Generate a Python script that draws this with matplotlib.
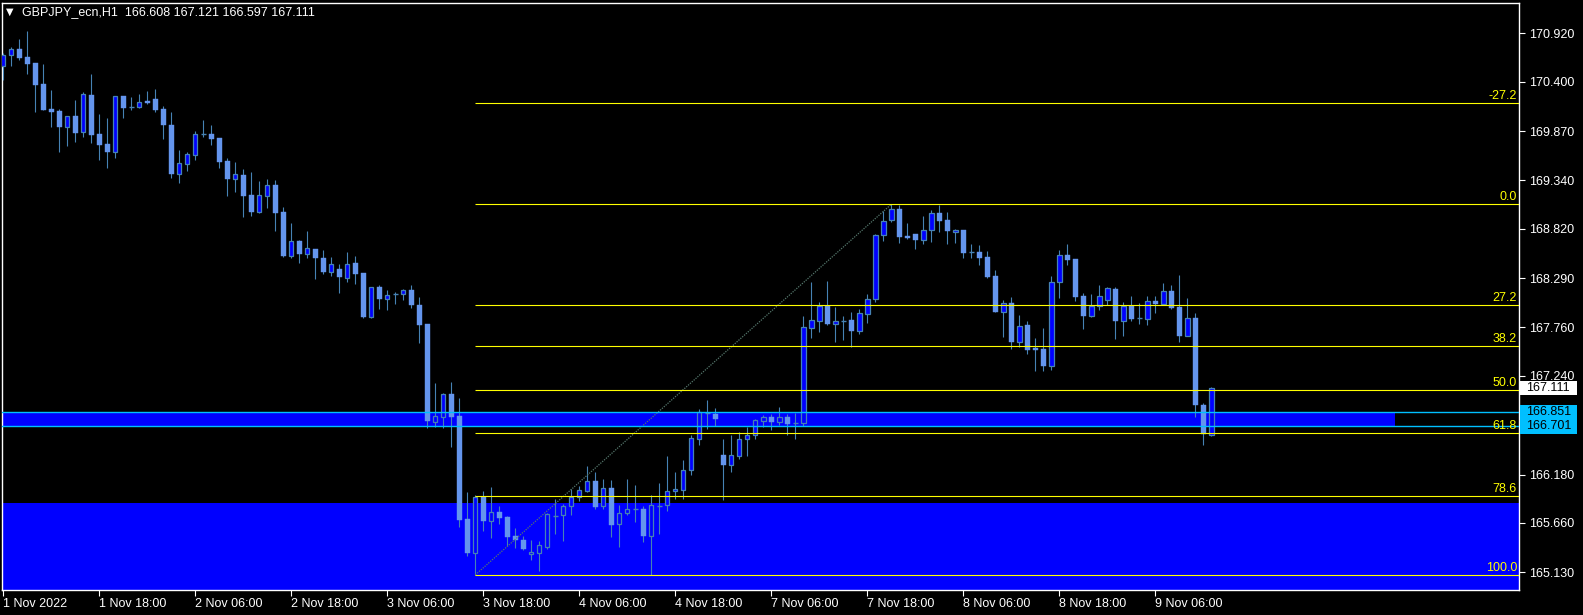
import matplotlib
matplotlib.use("Agg")
import matplotlib.pyplot as plt
from matplotlib.patches import Rectangle
from matplotlib.transforms import blended_transform_factory

# hourly candles, bar 0 = 1 Nov 06:00 (weekend skipped after bar 89)
opens = [170.574, 170.686, 170.753, 170.667, 170.603, 170.377, 170.109, 170.087, 169.918, 170.033,
         169.865, 170.259, 169.840, 169.732, 169.650, 170.248, 170.133, 170.133, 170.195, 170.216,
         170.109, 169.937, 169.413, 169.521, 169.617, 169.837, 169.840, 169.797, 169.550, 169.360,
         169.399, 169.184, 169.005, 169.177, 169.292, 169.002, 168.532, 168.690, 168.554, 168.604,
         168.507, 168.360, 168.389, 168.296, 168.454, 168.346, 167.876, 168.196, 168.070, 168.124,
         168.124, 168.163, 168.002, 167.798, 166.748, 166.802, 167.046, 166.809, 165.702, 165.340,
         165.939, 165.684, 165.778, 165.727, 165.520, 165.477, 165.323, 165.334, 165.405, 165.738,
         165.749, 165.839, 165.942, 166.003, 166.111, 165.839, 166.035, 165.645, 165.764, 165.807,
         165.810, 165.523, 165.846, 165.850, 166.000, 166.017, 166.226, 166.565, 166.838, 166.834,
         166.387, 166.286, 166.383, 166.565, 166.602, 166.759, 166.795, 166.748, 166.795, 166.737,
         166.737, 167.758, 167.834, 167.991, 167.801, 167.830, 167.838, 167.720, 167.909, 168.063,
         168.751, 168.912, 169.034, 168.740, 168.765, 168.704, 168.805, 168.991, 168.916, 168.790,
         168.808, 168.572, 168.572, 168.518, 168.314, 167.930, 168.024, 167.608, 167.787, 167.537,
         167.529, 167.350, 168.246, 168.540, 168.497, 168.099, 167.887, 167.988, 168.059, 168.174,
         167.834, 167.991, 167.859, 167.855, 168.045, 168.016, 168.153, 167.981, 167.669, 167.863,
         166.928, 166.608]
highs = [170.707, 170.778, 170.861, 170.947, 170.603, 170.592, 170.313, 170.109, 170.033, 170.205,
         170.291, 170.485, 170.055, 170.012, 170.248, 170.248, 170.238, 170.270, 170.305, 170.324,
         170.138, 170.076, 169.668, 169.647, 169.872, 169.990, 169.937, 169.797, 169.582, 169.539,
         169.464, 169.432, 169.335, 169.356, 169.346, 169.055, 168.883, 168.698, 168.797, 168.604,
         168.593, 168.515, 168.443, 168.572, 168.529, 168.346, 168.196, 168.217, 168.160, 168.142,
         168.171, 168.217, 168.088, 167.798, 167.164, 167.053, 167.175, 167.003, 165.993, 165.957,
         166.003, 166.046, 165.842, 165.734, 165.606, 165.523, 165.477, 165.466, 165.767, 165.917,
         165.864, 166.025, 166.057, 166.272, 166.207, 166.132, 166.121, 165.850, 166.132, 166.068,
         165.842, 165.960, 166.089, 166.379, 166.207, 166.336, 166.605, 166.885, 166.981, 166.895,
         166.562, 166.605, 166.634, 166.694, 166.774, 166.820, 166.831, 166.906, 166.831, 166.838,
         167.884, 168.249, 168.034, 168.260, 167.981, 167.884, 167.927, 167.959, 168.120, 168.768,
         169.016, 169.084, 169.080, 168.883, 168.765, 168.955, 169.023, 169.077, 169.002, 168.819,
         168.808, 168.658, 168.647, 168.583, 168.378, 168.056, 168.088, 167.895, 167.830, 167.648,
         167.755, 168.314, 168.593, 168.658, 168.497, 168.128, 168.120, 168.217, 168.196, 168.196,
         168.038, 168.099, 168.024, 168.099, 168.099, 168.239, 168.217, 168.325, 168.077, 167.916,
         166.949, 167.121]
lows = [170.420, 170.574, 170.635, 170.488, 170.080, 170.101, 169.918, 169.650, 169.714, 169.757,
        169.811, 169.740, 169.564, 169.478, 169.585, 170.015, 170.098, 170.116, 170.162, 170.080,
        169.786, 169.370, 169.317, 169.446, 169.564, 169.811, 169.725, 169.478, 169.177, 169.220,
        168.951, 168.962, 168.994, 169.048, 168.801, 168.521, 168.511, 168.457, 168.511, 168.285,
        168.335, 168.314, 168.134, 168.249, 168.228, 167.862, 167.866, 167.959, 167.948, 168.013,
        168.056, 167.970, 167.594, 166.684, 166.694, 166.684, 166.479, 165.620, 165.308, 165.101,
        165.577, 165.501, 165.652, 165.412, 165.391, 165.369, 165.262, 165.144, 165.383, 165.544,
        165.469, 165.749, 165.899, 165.993, 165.807, 165.807, 165.512, 165.405, 165.745, 165.673,
        165.458, 165.100, 165.544, 165.792, 165.920, 165.920, 166.178, 166.501, 166.673, 166.702,
        165.910, 166.211, 166.350, 166.383, 166.565, 166.688, 166.659, 166.716, 166.608, 166.565,
        166.702, 167.651, 167.715, 167.790, 167.608, 167.629, 167.548, 167.687, 167.812, 168.031,
        168.693, 168.897, 168.672, 168.711, 168.607, 168.658, 168.682, 168.787, 168.661, 168.672,
        168.511, 168.511, 168.435, 168.289, 167.930, 167.662, 167.533, 167.554, 167.479, 167.296,
        167.296, 167.307, 168.081, 168.435, 168.048, 167.744, 167.876, 167.948, 167.999, 167.637,
        167.669, 167.834, 167.801, 167.790, 167.919, 168.005, 167.959, 167.605, 167.669, 166.802,
        166.501, 166.597]
closes = [170.689, 170.750, 170.660, 170.595, 170.370, 170.101, 170.080, 169.918, 170.030, 169.854,
          170.267, 169.832, 169.725, 169.650, 170.245, 170.123, 170.133, 170.181, 170.176, 170.098,
          169.940, 169.413, 169.525, 169.622, 169.837, 169.837, 169.786, 169.542, 169.360, 169.407,
          169.177, 169.005, 169.181, 169.289, 168.994, 168.532, 168.687, 168.554, 168.612, 168.511,
          168.357, 168.440, 168.306, 168.443, 168.335, 167.873, 168.192, 168.067, 168.106, 168.124,
          168.160, 168.002, 167.790, 166.759, 166.809, 167.046, 166.802, 165.695, 165.340, 165.939,
          165.681, 165.774, 165.716, 165.512, 165.473, 165.380, 165.344, 165.423, 165.756, 165.738,
          165.842, 165.939, 166.014, 166.111, 165.835, 166.032, 165.641, 165.764, 165.807, 165.807,
          165.523, 165.850, 165.846, 166.000, 166.025, 166.229, 166.570, 166.849, 166.838, 166.780,
          166.286, 166.387, 166.559, 166.602, 166.763, 166.795, 166.748, 166.795, 166.727, 166.737,
          167.762, 167.838, 167.988, 167.798, 167.827, 167.830, 167.726, 167.913, 168.063, 168.751,
          168.902, 169.031, 168.736, 168.722, 168.704, 168.805, 168.991, 168.908, 168.801, 168.805,
          168.564, 168.572, 168.511, 168.306, 167.930, 168.020, 167.608, 167.773, 167.522, 167.519,
          167.350, 168.246, 168.540, 168.489, 168.091, 167.887, 167.991, 168.096, 168.182, 167.834,
          167.991, 167.852, 167.859, 168.045, 168.016, 168.149, 167.970, 167.669, 167.859, 166.928,
          166.613, 167.111]

date_labels = ["1 Nov 2022", "1 Nov 18:00", "2 Nov 06:00", "2 Nov 18:00", "3 Nov 06:00",
               "3 Nov 18:00", "4 Nov 06:00", "4 Nov 18:00", "7 Nov 06:00", "7 Nov 18:00",
               "8 Nov 06:00", "8 Nov 18:00", "9 Nov 06:00"]
price_ticks = [170.920, 170.400, 169.870, 169.340, 168.820, 168.290, 167.760, 167.240,
               166.180, 165.660, 165.130]

fib_levels = [-27.2, 0.0, 27.2, 38.2, 50.0, 61.8, 78.6, 100.0]
fib_high = 169.084
fib_low = 165.101
fib_high_bar = 111
fib_low_bar = 59

zone_top = 166.851
zone_bottom = 166.701
zone_end_bar = 174
demand_top = 165.874

last_price = 167.111
title = "GBPJPY_ecn,H1  166.608 167.121 166.597 167.111"

plt.rcParams["font.family"] = ["Liberation Sans", "DejaVu Sans"]

W, H = 1583, 615
fig = plt.figure(figsize=(W / 100, H / 100), dpi=100, facecolor="black")
ax = fig.add_axes([2 / W, 1 - 590 / H, (1519 - 2) / W, (590 - 3) / H])
ax.set_facecolor("black")
ax.set_xlim(-0.16, 189.46)
ax.set_ylim(164.939, 171.247)

wick = "#4682B4"
bull_fill = "#0000FF"
bear_fill = "#6495ED"

# background rectangles
ax.add_patch(Rectangle((-5, zone_bottom), zone_end_bar + 5, zone_top - zone_bottom,
                       color="#0000FF", lw=0, zorder=1))
ax.add_patch(Rectangle((-5, 160), 300, demand_top - 160, color="#0000FF", lw=0, zorder=1))

# candles
for i in range(len(opens)):
    o, h, l, c = opens[i], highs[i], lows[i], closes[i]
    ax.vlines(i, l, h, color=wick, lw=0.8, zorder=3)
    if c > o:
        ax.bar(i, c - o, bottom=o, width=0.55, color=bull_fill, edgecolor=wick,
               linewidth=0.9, zorder=4)
    elif c < o:
        ax.bar(i, o - c, bottom=c, width=0.62, color=bear_fill, edgecolor=bear_fill,
               linewidth=0.3, zorder=4)
    else:
        ax.hlines(o, i - 0.32, i + 0.32, color=wick, lw=1.0, zorder=4)

# fibonacci
rng = fib_high - fib_low
trans = blended_transform_factory(ax.transAxes, ax.transData)
ax.plot([fib_low_bar, fib_high_bar], [fib_low, fib_high], color="#55776C", lw=0.9,
        ls=(0, (1, 1)), zorder=5)
for lvl in fib_levels:
    p = fib_high - lvl / 100 * rng
    ax.hlines(p, fib_low_bar, 300, color="#FFFF00", lw=0.8, zorder=6)
    ax.annotate(f"{lvl:.1f}", xy=(1.0, p), xycoords=trans, xytext=(-2, 1),
                textcoords="offset pixels", ha="right", va="bottom",
                color="#FFFF00", fontsize=9, zorder=7)

ax.axhline(zone_top, color="#00BFFF", lw=1.0, zorder=6)
ax.axhline(zone_bottom, color="#00BFFF", lw=1.0, zorder=6)

# frame and axes
for s in ax.spines.values():
    s.set_color("white")
    s.set_linewidth(1.0)

ax.yaxis.tick_right()
ax.set_yticks(price_ticks)
ax.set_yticklabels([f"{p:.3f}" for p in price_ticks])
ax.set_xticks(range(0, len(opens), 12))
ax.set_xticklabels(date_labels)
for lbl in ax.get_xticklabels():
    lbl.set_ha("left")
ax.tick_params(axis="both", colors="white", length=4, width=0.8, labelsize=9)
ax.tick_params(axis="y", pad=3)
ax.tick_params(axis="x", pad=2)

# price boxes on the right scale
fig.add_artist(Rectangle((1.0007, last_price - 0.075), 0.0376, 0.15, transform=trans,
                         color="white", lw=0, zorder=5))
fig.text(1.0046, last_price, f"{last_price:.3f}", transform=trans, color="black",
         fontsize=9, va="center", zorder=6)
fig.add_artist(Rectangle((1.0007, zone_bottom - 0.085), 0.0376,
                         zone_top - zone_bottom + 0.16, transform=trans,
                         color="#00BFFF", lw=0, zorder=5))
for p in (zone_top, zone_bottom):
    fig.text(1.0046, p, f"{p:.3f}", transform=trans, color="black",
             fontsize=9, va="center", zorder=6)

# title
fig.text(6 / W, 1 - 12 / H, "\u25BC", color="white", fontsize=7, va="center",
         family="DejaVu Sans")
fig.text(21.5 / W, 1 - 12.5 / H, title, color="white", fontsize=9, va="center")

fig.savefig("out.png", dpi=100, facecolor="black")
